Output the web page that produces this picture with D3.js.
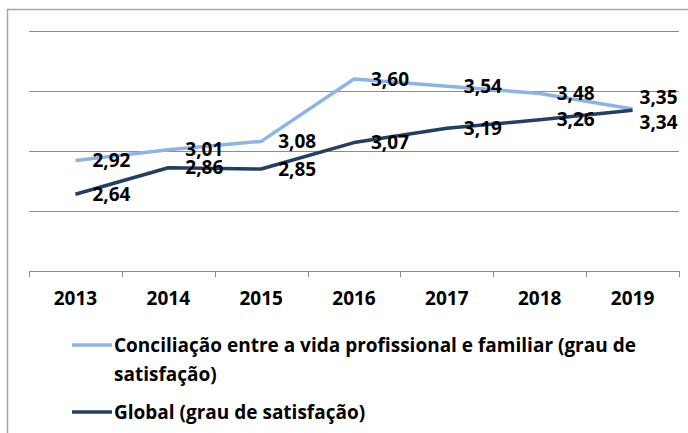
<!DOCTYPE html>
<html>
<head>
<meta charset="utf-8">
<script src="https://cdn.jsdelivr.net/npm/d3@7"></script>
<style>
  body { margin: 0; background: #fff; }
  text { font-family: "Open Sans", sans-serif; font-weight: bold; fill: #000; }
</style>
</head>
<body>
<div id="chart"></div>
<script>
"use strict";

var years = ["2013", "2014", "2015", "2016", "2017", "2018", "2019"];
var conciliacao = [2.92, 3.01, 3.08, 3.60, 3.54, 3.48, 3.35];
var global = [2.64, 2.86, 2.85, 3.07, 3.19, 3.26, 3.34];
var seriesNames = [
  "Conciliação entre a vida profissional e familiar (grau de satisfação)",
  "Global (grau de satisfação)"
];
var yTicks = [2, 2.5, 3, 3.5, 4];

var width = 688, height = 433;
var plot = { left: 29, right: 679, top: 31, bottom: 271 };
var colors = ["#8eb4e3", "#243f60"];
var fmt = function (v) { return v.toFixed(2).replace(".", ","); };

var svg = d3.select("#chart").append("svg")
  .attr("width", width).attr("height", height);

// outer frame, runs off the right and bottom edges
svg.append("rect")
  .attr("x", 7.5).attr("y", 9.5)
  .attr("width", 700).attr("height", 440)
  .attr("fill", "none").attr("stroke", "#a6a6a6").attr("stroke-width", 1.5);

var x = d3.scaleBand().domain(years).range([plot.left, plot.right]);
var y = d3.scaleLinear().domain([2, 4]).range([plot.bottom, plot.top]);

// gridlines
svg.append("g")
  .selectAll("line")
  .data(yTicks.slice(1))
  .join("line")
  .attr("x1", plot.left).attr("x2", plot.right)
  .attr("y1", function (d) { return Math.round(y(d)) + 0.5; })
  .attr("y2", function (d) { return Math.round(y(d)) + 0.5; })
  .attr("stroke", "#8c8c8c");

// x axis
var xAxis = svg.append("g")
  .attr("transform", "translate(0," + (plot.bottom + 0.5) + ")")
  .call(d3.axisBottom(x).tickSize(0).tickPadding(20));
xAxis.select(".domain").attr("stroke", "#8c8c8c").attr("d", "M" + plot.left + ",0H" + plot.right);
xAxis.selectAll("text").style("font-size", "19px").attr("font-family", null);

// category separators
svg.append("g")
  .selectAll("line")
  .data(years.concat(["end"]))
  .join("line")
  .attr("x1", function (d, i) { return Math.round(plot.left + i * x.step()) + 0.5; })
  .attr("x2", function (d, i) { return Math.round(plot.left + i * x.step()) + 0.5; })
  .attr("y1", plot.bottom).attr("y2", plot.bottom + 6)
  .attr("stroke", "#8c8c8c");

var cx = function (d) { return x(d) + x.bandwidth() / 2; };
var data = [conciliacao, global];

var line = d3.line()
  .x(function (d, i) { return cx(years[i]); })
  .y(function (d) { return y(d); });

data.forEach(function (vals, s) {
  svg.append("path")
    .datum(vals)
    .attr("fill", "none")
    .attr("stroke", colors[s])
    .attr("stroke-width", 3.5)
    .attr("stroke-linejoin", "round")
    .attr("d", line);
});

// data labels, right of point; pushed apart where both series meet
data.forEach(function (vals, s) {
  svg.append("g")
    .selectAll("text")
    .data(vals)
    .join("text")
    .attr("x", function (d, i) {
      var other = data[1 - s][i];
      var close = Math.abs(y(other) - y(d)) < 14;
      return cx(years[i]) + (close ? 7 : 17);
    })
    .attr("y", function (d, i) {
      var other = data[1 - s][i];
      var close = Math.abs(y(other) - y(d)) < 14;
      var shift = close ? (d >= other ? -12 : 12) : 0;
      return y(d) + shift;
    })
    .attr("dy", "0.35em")
    .style("font-size", "19px")
    .text(fmt);
});

// legend
var legend = svg.append("g");
var rowY = 345;
seriesNames.forEach(function (name, s) {
  legend.append("line")
    .attr("x1", 72).attr("x2", 112)
    .attr("y1", rowY).attr("y2", rowY)
    .attr("stroke", colors[s]).attr("stroke-width", 3.5);
  var t = legend.append("text")
    .attr("x", 114).attr("y", rowY)
    .attr("dy", "0.35em")
    .style("font-size", "19px");
  var words = name.split(" ");
  var lineText = [];
  var tspan = t.append("tspan").attr("x", 114);
  var lines = 1;
  words.forEach(function (w) {
    lineText.push(w);
    tspan.text(lineText.join(" "));
    if (tspan.node().getComputedTextLength() > 540 && lineText.length > 1) {
      lineText.pop();
      tspan.text(lineText.join(" "));
      lineText = [w];
      tspan = t.append("tspan").attr("x", 114).attr("dy", "29px").text(w);
      lines++;
    }
  });
  rowY += 29 * lines + 9;
});
</script>
</body>
</html>
